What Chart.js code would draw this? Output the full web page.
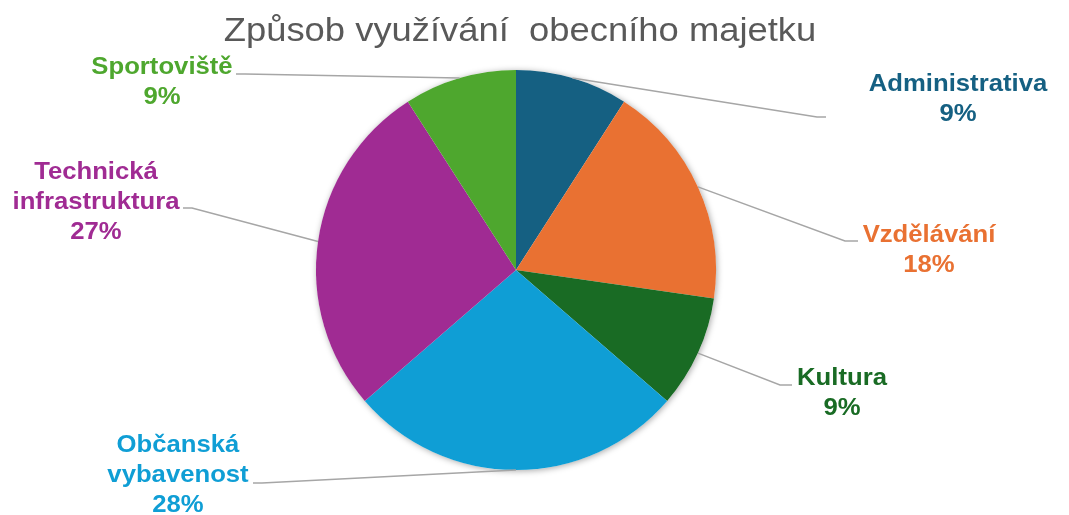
<!DOCTYPE html>
<html>
<head>
<meta charset="utf-8">
<script src="https://cdn.jsdelivr.net/npm/chart.js@4.4.1/dist/chart.umd.min.js"></script>
<style>
  html, body { margin: 0; padding: 0; background: #fff; }
  #wrap { width: 1069px; height: 515px; }
</style>
</head>
<body>
<div id="wrap"><canvas id="chart" width="1069" height="515"></canvas></div>
<script>
const chartTitle = "Způsob využívání  obecního majetku";
const categories = ["Administrativa", "Vzdělávání", "Kultura", "Občanská vybavenost", "Technická infrastruktura", "Sportoviště"];
// slice sizes (counts)
const counts = [1, 2, 1, 3, 3, 1];
// percentages as printed on the labels
const percentLabels = ["9%", "18%", "9%", "28%", "27%", "9%"];
const colors = ["#156082", "#e97132", "#196b24", "#0f9ed5", "#a02b93", "#4ea72e"];

// label placement: text lines, text centre x, first line y, leader elbow + end
const labelSpots = [
  { lines: ["Administrativa"], x: 958, y: 84, elbow: [817, 117], end: [826, 117] },
  { lines: ["Vzdělávání"], x: 929, y: 235, elbow: [845, 241], end: [858, 241] },
  { lines: ["Kultura"], x: 842, y: 378, elbow: [780, 385], end: [792, 385] },
  { lines: ["Občanská", "vybavenost"], x: 178, y: 445, elbow: [262, 483], end: [253, 483] },
  { lines: ["Technická", "infrastruktura"], x: 96, y: 172, elbow: [192, 208], end: [183, 208] },
  { lines: ["Sportoviště"], x: 162, y: 67, elbow: [245, 74], end: [236, 74] },
];

const stretch = 1.07;

function drawText(ctx, text, x, y, font, color) {
  ctx.save();
  ctx.font = font;
  ctx.fillStyle = color;
  ctx.textAlign = "center";
  ctx.textBaseline = "middle";
  ctx.translate(x, y);
  ctx.scale(stretch, 1);
  ctx.fillText(text, 0, 0);
  ctx.restore();
}

const pieExtras = {
  id: "pieExtras",
  beforeDatasetsDraw(chart) {
    const ctx = chart.ctx;
    const arc = chart.getDatasetMeta(0).data[0];
    ctx.save();
    ctx.shadowColor = "rgba(0,0,0,0.35)";
    ctx.shadowBlur = 6;
    ctx.shadowOffsetX = 1;
    ctx.shadowOffsetY = 1;
    ctx.fillStyle = "#ffffff";
    ctx.beginPath();
    ctx.arc(arc.x, arc.y, arc.outerRadius, 0, Math.PI * 2);
    ctx.fill();
    ctx.restore();
  },
  afterDatasetsDraw(chart) {
    const ctx = chart.ctx;
    drawText(ctx, chartTitle, 520, 32, "34px 'Liberation Sans', Arial, sans-serif", "#595959");
    chart.getDatasetMeta(0).data.forEach((arc, i) => {
      const spot = labelSpots[i];
      const mid = (arc.startAngle + arc.endAngle) / 2;
      const px = arc.x + Math.cos(mid) * arc.outerRadius;
      const py = arc.y + Math.sin(mid) * arc.outerRadius;
      ctx.save();
      ctx.strokeStyle = "#a6a6a6";
      ctx.lineWidth = 1.5;
      ctx.beginPath();
      ctx.moveTo(px, py);
      ctx.lineTo(spot.elbow[0], spot.elbow[1]);
      ctx.lineTo(spot.end[0], spot.end[1]);
      ctx.stroke();
      ctx.restore();
      const lines = spot.lines.concat([percentLabels[i]]);
      lines.forEach((t, k) => {
        drawText(ctx, t, spot.x, spot.y + k * 30, "bold 24px 'Liberation Sans', Arial, sans-serif", colors[i]);
      });
    });
  }
};

new Chart(document.getElementById("chart"), {
  type: "pie",
  data: {
    labels: categories,
    datasets: [{
      data: counts,
      backgroundColor: colors,
      borderWidth: 0,
    }]
  },
  options: {
    responsive: false,
    animation: false,
    layout: { padding: { top: 70, bottom: 45, left: 316, right: 353 } },
    plugins: {
      legend: { display: false },
      tooltip: { enabled: false },
      title: { display: false },
    }
  },
  plugins: [pieExtras]
});
</script>
</body>
</html>
